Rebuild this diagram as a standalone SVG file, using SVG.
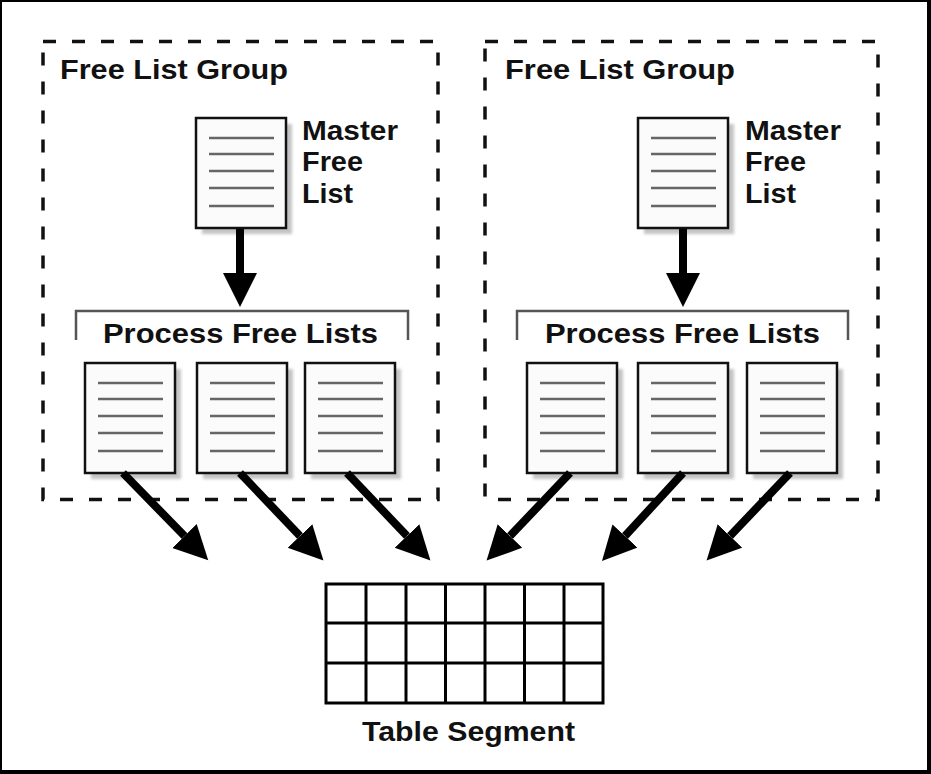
<svg xmlns="http://www.w3.org/2000/svg" width="931" height="774" viewBox="0 0 931 774">
  <defs>
    <style>
      .lbl { font-family: "Liberation Sans", Arial, sans-serif; font-weight: bold; font-size: 27px; fill: #111; }
      .grp { fill: none; stroke: #111; stroke-width: 3.5; stroke-dasharray: 13 16; }
      .brk { fill: none; stroke: #555; stroke-width: 2.5; }
      .arr { stroke: #000; stroke-width: 8; fill: none; marker-end: url(#head); }
      .grid { fill: #fff; stroke: #000; stroke-width: 3; }
    </style>
    <filter id="blur" x="-20%" y="-20%" width="140%" height="140%">
      <feGaussianBlur stdDeviation="1.5"/>
    </filter>
    <marker id="head" markerUnits="userSpaceOnUse" markerWidth="36" markerHeight="36" refX="0" refY="17" orient="auto" viewBox="0 0 36 36">
      <path d="M0,0 L34,17 L0,34 Z" fill="#000"/>
    </marker>
    <g id="doc">
      <rect x="6" y="6" width="90" height="110" fill="#c4c4c4" filter="url(#blur)"/>
      <rect x="0" y="0" width="90" height="110" fill="#fbfbfb" stroke="#111" stroke-width="2.5"/>
      <g stroke="#666" stroke-width="2.5">
        <line x1="13" y1="20" x2="78" y2="20"/>
        <line x1="13" y1="36" x2="78" y2="36"/>
        <line x1="13" y1="53" x2="78" y2="53"/>
        <line x1="13" y1="70" x2="78" y2="70"/>
        <line x1="13" y1="88" x2="78" y2="88"/>
      </g>
    </g>
  </defs>

  <rect x="0" y="0" width="931" height="774" fill="#000"/>
  <rect x="2" y="2" width="925" height="768" fill="#fff"/>

  <g id="group-left">
    <rect class="grp" x="43" y="41.5" width="395" height="458"/>
    <text class="lbl" x="60" y="79" textLength="228" lengthAdjust="spacingAndGlyphs">Free List Group</text>
  </g>
  <g id="group-right">
    <rect class="grp" x="485" y="41.5" width="393" height="458"/>
    <text class="lbl" x="505" y="79" textLength="230" lengthAdjust="spacingAndGlyphs">Free List Group</text>
  </g>

  <g id="master-left">
    <use href="#doc" x="196" y="118"/>
    <text class="lbl" x="302" y="140" textLength="96" lengthAdjust="spacingAndGlyphs">Master</text>
    <text class="lbl" x="302" y="171" textLength="61" lengthAdjust="spacingAndGlyphs">Free</text>
    <text class="lbl" x="302" y="203" textLength="51" lengthAdjust="spacingAndGlyphs">List</text>
  </g>
  <g id="master-right">
    <use href="#doc" x="638" y="118"/>
    <text class="lbl" x="745" y="140" textLength="96" lengthAdjust="spacingAndGlyphs">Master</text>
    <text class="lbl" x="745" y="171" textLength="61" lengthAdjust="spacingAndGlyphs">Free</text>
    <text class="lbl" x="745" y="203" textLength="51" lengthAdjust="spacingAndGlyphs">List</text>
  </g>

  <g id="process-left">
    <path class="brk" d="M76,340 V311 H408 V340"/>
    <text class="lbl" x="103" y="343" textLength="275" lengthAdjust="spacingAndGlyphs">Process Free Lists</text>
    <use id="pl1" href="#doc" x="85" y="363"/>
    <use id="pl2" href="#doc" x="197" y="363"/>
    <use id="pl3" href="#doc" x="305" y="363"/>
  </g>
  <g id="process-right">
    <path class="brk" d="M517,340 V311 H848 V340"/>
    <text class="lbl" x="545" y="343" textLength="275" lengthAdjust="spacingAndGlyphs">Process Free Lists</text>
    <use id="pr1" href="#doc" x="527" y="363"/>
    <use id="pr2" href="#doc" x="638" y="363"/>
    <use id="pr3" href="#doc" x="747" y="363"/>
  </g>

  <g id="table-segment">
    <rect class="grid" x="326" y="584" width="277" height="119"/>
    <g stroke="#000" stroke-width="3">
      <line x1="366" y1="584" x2="366" y2="703"/>
      <line x1="406" y1="584" x2="406" y2="703"/>
      <line x1="445.5" y1="584" x2="445.5" y2="703"/>
      <line x1="485" y1="584" x2="485" y2="703"/>
      <line x1="524.5" y1="584" x2="524.5" y2="703"/>
      <line x1="564" y1="584" x2="564" y2="703"/>
      <line x1="326" y1="623" x2="603" y2="623"/>
      <line x1="326" y1="663" x2="603" y2="663"/>
    </g>
    <text class="lbl" x="362" y="741" style="font-size:28px" textLength="213" lengthAdjust="spacingAndGlyphs">Table Segment</text>
  </g>

  <g id="connectors">
    <line class="arr" x1="240" y1="229" x2="240" y2="273"/>
    <line class="arr" x1="683" y1="229" x2="683" y2="273"/>
    <line class="arr" x1="123" y1="473" x2="184.5" y2="536"/>
    <line class="arr" x1="240" y1="473" x2="300" y2="536"/>
    <line class="arr" x1="347" y1="473" x2="407" y2="536"/>
    <line class="arr" x1="570" y1="473" x2="510" y2="536"/>
    <line class="arr" x1="683" y1="473" x2="625" y2="536"/>
    <line class="arr" x1="790" y1="473" x2="730" y2="536"/>
  </g>
</svg>
